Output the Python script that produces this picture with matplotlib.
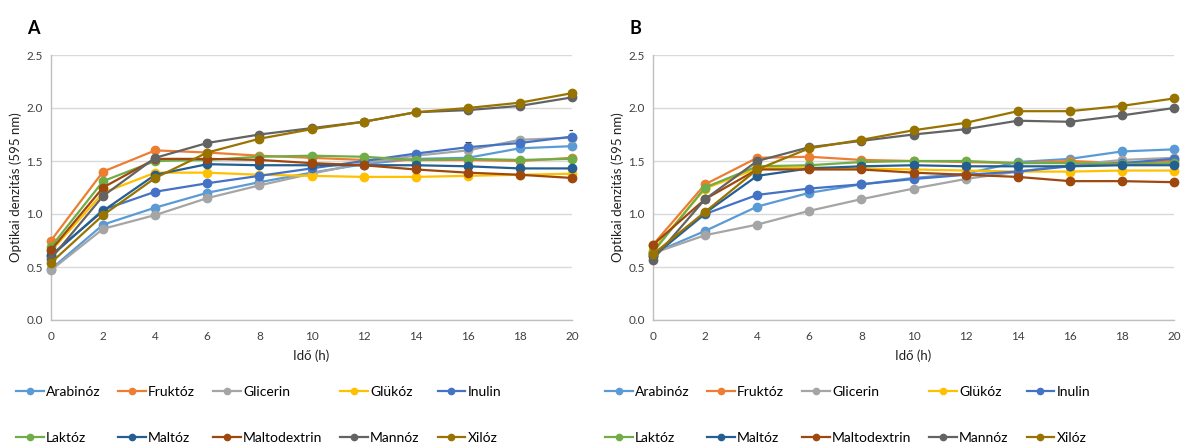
import numpy as np
import matplotlib
matplotlib.use("Agg")
import matplotlib.pyplot as plt

plt.rcParams['font.family'] = ['Lato', 'DejaVu Sans']

hours = [0, 2, 4, 6, 8, 10, 12, 14, 16, 18, 20]
names = ['Arabinóz', 'Fruktóz', 'Glicerin', 'Glükóz', 'Inulin',
         'Laktóz', 'Maltóz', 'Maltodextrin', 'Mannóz', 'Xilóz']
colors = ['#5B9BD5', '#ED7D31', '#A5A5A5', '#FFC000', '#4472C4',
          '#70AD47', '#255E91', '#9E480E', '#636363', '#997300']

# panel A
a_arabinoz = [0.48, 0.90, 1.06, 1.20, 1.30, 1.39, 1.47, 1.52, 1.53, 1.62, 1.64]
a_fruktoz = [0.75, 1.40, 1.60, 1.58, 1.55, 1.53, 1.51, 1.51, 1.51, 1.50, 1.53]
a_glicerin = [0.47, 0.86, 0.99, 1.15, 1.27, 1.38, 1.48, 1.55, 1.60, 1.70, 1.72]
a_glukoz = [0.65, 1.20, 1.39, 1.39, 1.37, 1.36, 1.35, 1.35, 1.36, 1.37, 1.38]
a_inulin = [0.60, 1.04, 1.21, 1.29, 1.36, 1.43, 1.50, 1.57, 1.63, 1.67, 1.73]
a_laktoz = [0.69, 1.31, 1.50, 1.51, 1.54, 1.55, 1.54, 1.51, 1.52, 1.51, 1.52]
a_maltoz = [0.61, 1.03, 1.37, 1.47, 1.46, 1.46, 1.46, 1.46, 1.45, 1.43, 1.43]
a_maltodextrin = [0.66, 1.25, 1.52, 1.52, 1.51, 1.48, 1.46, 1.42, 1.39, 1.37, 1.34]
a_mannoz = [0.58, 1.17, 1.53, 1.67, 1.75, 1.81, 1.87, 1.96, 1.98, 2.02, 2.10]
a_xiloz = [0.54, 0.99, 1.34, 1.58, 1.71, 1.80, 1.87, 1.96, 2.00, 2.05, 2.14]

# panel B
b_arabinoz = [0.63, 0.84, 1.07, 1.20, 1.28, 1.34, 1.38, 1.49, 1.52, 1.59, 1.61]
b_fruktoz = [0.71, 1.28, 1.53, 1.54, 1.51, 1.50, 1.49, 1.48, 1.50, 1.48, 1.50]
b_glicerin = [0.63, 0.80, 0.90, 1.03, 1.14, 1.24, 1.33, 1.40, 1.46, 1.51, 1.53]
b_glukoz = [0.66, 1.24, 1.43, 1.44, 1.43, 1.42, 1.41, 1.40, 1.40, 1.41, 1.41]
b_inulin = [0.60, 1.00, 1.18, 1.24, 1.28, 1.33, 1.37, 1.40, 1.45, 1.48, 1.52]
b_laktoz = [0.64, 1.25, 1.45, 1.46, 1.49, 1.50, 1.50, 1.48, 1.48, 1.47, 1.48]
b_maltoz = [0.60, 1.01, 1.36, 1.43, 1.45, 1.46, 1.45, 1.45, 1.45, 1.46, 1.46]
b_maltodextrin = [0.71, 1.14, 1.42, 1.42, 1.42, 1.39, 1.37, 1.35, 1.31, 1.31, 1.30]
b_mannoz = [0.57, 1.14, 1.50, 1.63, 1.69, 1.75, 1.80, 1.88, 1.87, 1.93, 2.00]
b_xiloz = [0.62, 1.02, 1.42, 1.62, 1.70, 1.79, 1.86, 1.97, 1.97, 2.02, 2.09]

# error bars (only where visible)
a_err_glukoz = [0, 0, 0, 0, 0.02, 0.03, 0.03, 0.03, 0.03, 0.02, 0.02]
a_err_inulin = [0, 0, 0, 0, 0, 0, 0, 0.02, 0.05, 0.03, 0.06]
a_err_glicerin = [0, 0, 0, 0, 0, 0, 0.04, 0, 0.04, 0.03, 0.03]
a_err_arabinoz = [0, 0, 0, 0, 0, 0, 0, 0, 0, 0.03, 0]
b_err_arabinoz = [0, 0, 0, 0, 0, 0, 0, 0, 0, 0.03, 0]
b_err_mannoz = [0.03, 0, 0, 0, 0, 0, 0, 0, 0, 0, 0]

series_A = [a_arabinoz, a_fruktoz, a_glicerin, a_glukoz, a_inulin,
            a_laktoz, a_maltoz, a_maltodextrin, a_mannoz, a_xiloz]
series_B = [b_arabinoz, b_fruktoz, b_glicerin, b_glukoz, b_inulin,
            b_laktoz, b_maltoz, b_maltodextrin, b_mannoz, b_xiloz]
errs_A = [a_err_arabinoz, None, a_err_glicerin, a_err_glukoz, a_err_inulin,
          None, None, None, None, None]
errs_B = [b_err_arabinoz, None, None, None, None,
          None, None, None, b_err_mannoz, None]


def draw_panel(ax, series, errs, letter, fig, leg_x0):
    handles = []
    for vals, err, name, col in zip(series, errs, names, colors):
        h, = ax.plot(hours, vals, color=col, lw=1.6, marker='o', ms=6,
                     label=name, clip_on=False, zorder=3)
        handles.append(h)
        if err is not None:
            ax.errorbar(hours, vals, yerr=err, fmt='none', ecolor='#404040',
                        elinewidth=0.8, capsize=2.5, capthick=0.8, zorder=2)
    ax.set_xlim(0, 20)
    ax.set_ylim(0, 2.5)
    ax.set_xticks(hours)
    ax.set_yticks([0.0, 0.5, 1.0, 1.5, 2.0, 2.5])
    ax.yaxis.set_major_formatter(matplotlib.ticker.FormatStrFormatter('%.1f'))
    ax.grid(axis='y', color='#D9D9D9', lw=1.0)
    ax.set_axisbelow(True)
    for s in ['top', 'right']:
        ax.spines[s].set_visible(False)
    for s in ['left', 'bottom']:
        ax.spines[s].set_color('#BFBFBF')
        ax.spines[s].set_linewidth(1.0)
    ax.tick_params(length=0, labelsize=8.5, colors='#404040', pad=8)
    ax.tick_params(axis='y', pad=6)
    ax.set_xlabel('Idő (h)', fontsize=9.5, color='#202020', labelpad=5)
    ax.set_ylabel('Optikai denzitás (595 nm)', fontsize=9.5, color='#202020', labelpad=3)
    pos = ax.get_position()
    fig.text(pos.x0 - 0.020, 0.935, letter, fontsize=13, fontweight='bold',
             ha='left', va='center')
    # legend is filled column by column, so interleave the two rows
    order = [0, 5, 1, 6, 2, 7, 3, 8, 4, 9]
    ax.legend([handles[i] for i in order], [names[i] for i in order],
              loc='upper left', bbox_to_anchor=(leg_x0, 0.0, 0.41, 0.132),
              bbox_transform=fig.transFigure, ncol=5, mode='expand',
              frameon=False, fontsize=10, handlelength=2.0, handletextpad=0.15,
              labelspacing=2.45, borderaxespad=0, borderpad=0, markerscale=0.75)


fig = plt.figure(figsize=(11.83, 4.45), dpi=100)
axA = fig.add_axes([51 / 1183, 1 - 320 / 445, 521 / 1183, 265 / 445])
axB = fig.add_axes([653 / 1183, 1 - 320 / 445, 521 / 1183, 265 / 445])
draw_panel(axA, series_A, errs_A, 'A', fig, 16 / 1183)
draw_panel(axB, series_B, errs_B, 'B', fig, 605 / 1183)

fig.savefig('out.png', dpi=100)
